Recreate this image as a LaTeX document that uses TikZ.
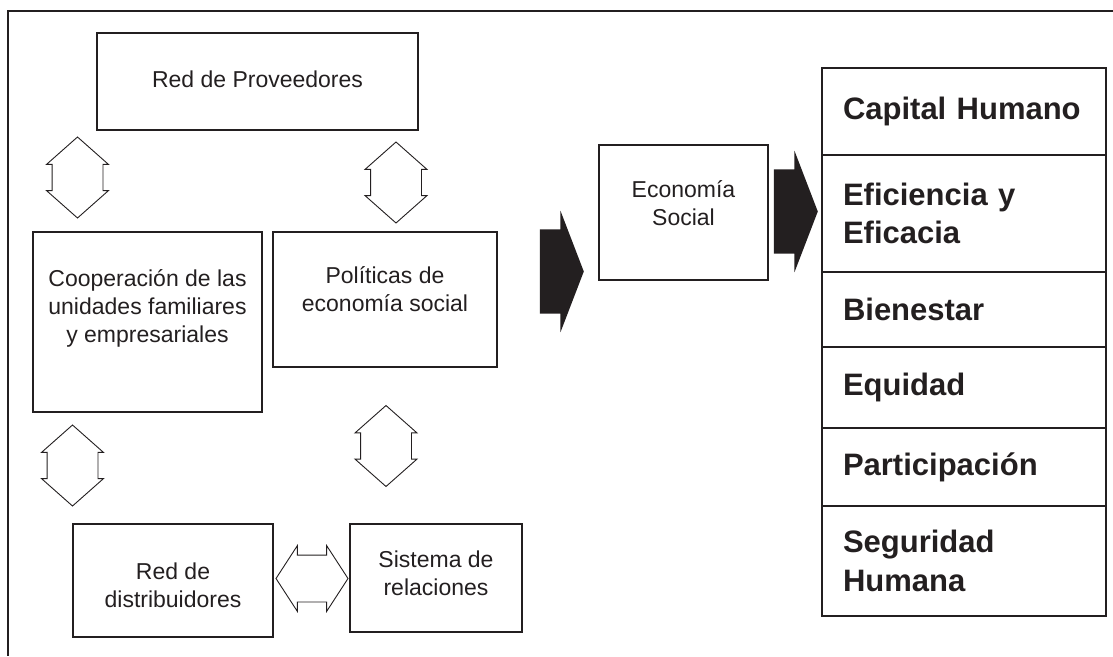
\documentclass[tikz,border=0pt]{standalone}
\usepackage{fontspec}
\setmainfont{Liberation Sans}
\usetikzlibrary{shapes.arrows,positioning}
\definecolor{ink}{RGB}{35,31,32}

\begin{document}
\begin{tikzpicture}[
    x=1pt, y=-1pt,
    box/.style={rectangle, draw=ink, line width=2pt, inner sep=0pt, outer sep=0pt},
    txt/.style={text=ink, align=center, inner sep=0pt, font=\fontsize{23}{28}\selectfont},
    row/.style={rectangle, draw=ink, line width=2pt, outer sep=0pt, minimum width=284pt,
        text width=242pt, inner xsep=21pt, inner ysep=0pt, align=left, text=ink,
        font=\bfseries\fontsize{31}{38.5}\selectfont},
    updown/.style={double arrow, draw=ink, line width=0.9pt, fill=white, inner xsep=0pt,
        inner ysep=25pt, minimum height=81pt, minimum width=61pt, double arrow head extend=5.5pt,
        double arrow tip angle=97, rotate=90},
    leftright/.style={double arrow, draw=ink, line width=0.9pt, fill=white, inner xsep=0pt,
        inner ysep=23pt, minimum height=72pt, minimum width=65pt, double arrow head extend=9.5pt,
        double arrow tip angle=114},
    bigarrow/.style={single arrow, fill=ink, inner xsep=0pt, inner ysep=42pt, minimum height=44pt,
        minimum width=121pt, single arrow head extend=18.5pt, single arrow tip angle=138, anchor=tip}
]
\useasboundingbox (0,0) rectangle (1113,656);

% Frame
\draw[ink, line width=2pt] (1113,11) -| (8,656);

% Boxes
\node[box, minimum width=321pt, minimum height=97pt] (prov) at (257.5,81.5) {};
\node[box, minimum width=229pt, minimum height=180pt] (coop) at (147.5,322) {};
\node[box, minimum width=224pt, minimum height=135pt] (pol) at (385,299.5) {};
\node[box, minimum width=169pt, minimum height=135pt] (econ) at (683.5,212.5) {};
\node[box, minimum width=200pt, minimum height=113pt] (dist) at (173,580.5) {};
\node[box, minimum width=172pt, minimum height=108pt] (sist) at (436,578) {};

% Box texts
\node[txt] (provT) at ([yshift=2.5pt]prov.center) {Red de Proveedores};
\node[txt] (coopT) at ([yshift=14pt]coop.center) {Cooperación de las\\unidades familiares\\y empresariales};
\node[txt] (polT) at ([yshift=10.5pt]pol.center) {Políticas de\\economía social};
\node[txt] (econT) at ([yshift=9.5pt]econ.center) {Economía\\Social};
\node[txt] (distT) at ([yshift=-5pt]dist.center) {Red de\\distribuidores};
\node[txt] (sistT) at ([yshift=4.5pt]sist.center) {Sistema de\\relaciones};

% Results column
\node[row, minimum height=87pt, anchor=north west] (capital) at (822,68) {Capital Humano};
\node[row, minimum height=117pt, below=0pt of capital] (eficiencia) {Eficiencia y\\Eficacia};
\node[row, minimum height=75pt, below=0pt of eficiencia] (bienestar) {Bienestar};
\node[row, minimum height=81pt, below=0pt of bienestar] (equidad) {Equidad};
\node[row, minimum height=78pt, below=0pt of equidad] (participacion) {Participación};
\node[row, minimum height=110pt, below=0pt of participacion] (seguridad) {Seguridad\\Humana};

% Hollow arrows
\node[updown] (provCoop) at (77.5,177.5) {};
\node[updown] (provPol) at (396,182.5) {};
\node[updown] (coopDist) at (72.5,465.5) {};
\node[updown] (polSist) at (386,446) {};
\node[leftright] (distSist) at (312,578.5) {};

% Solid arrows
\node[bigarrow] (polEcon) at (584,271.5) {};
\node[bigarrow] (econRes) at (818,211.5) {};

\end{tikzpicture}
\end{document}
